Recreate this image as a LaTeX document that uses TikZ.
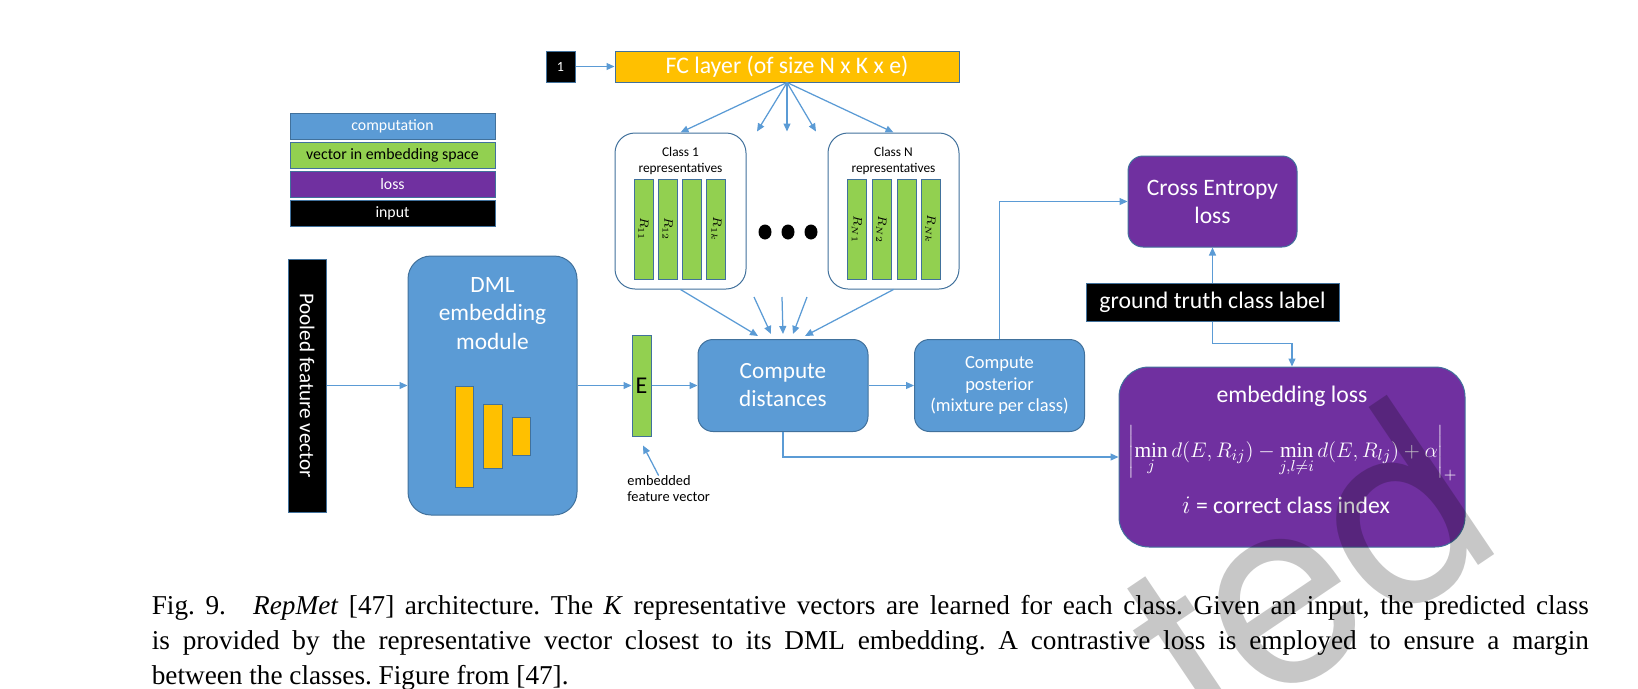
\documentclass[tikz,border=0pt]{standalone}
\usepackage{fontspec}
\setmainfont{Carlito}
\newfontfamily\capfont{Liberation Serif}
\newfontfamily\markfont{TeX Gyre Heros}
\usetikzlibrary{arrows.meta,calc}

\definecolor{compblue}{HTML}{5B9BD5}
\definecolor{vecgreen}{HTML}{92D050}
\definecolor{losspurple}{HTML}{7030A0}
\definecolor{fcorange}{HTML}{FFC000}
\definecolor{edgeblue}{HTML}{41719C}

\newcommand{\fs}[2]{\fontsize{#1}{#2}\selectfont}
\newcommand{\mn}{\mathop{\mbox{\capfont min}}\limits}

\begin{document}
\begin{tikzpicture}[x=0.2mm,y=-0.2mm]
  \tikzstyle{every node}=[inner sep=0pt]
  \tikzstyle{rim}=[draw=edgeblue,line width=0.2mm]
  \tikzstyle{comp}=[rim,fill=compblue,text=white,rounded corners=3mm]
  \tikzstyle{vec}=[rim,fill=vecgreen]
  \tikzstyle{loss}=[rim,fill=losspurple,text=white,rounded corners=3mm]
  \tikzstyle{inbox}=[rim,fill=black,text=white]
  \tikzstyle{fcbox}=[rim,fill=fcorange]
  \tikzstyle{classbox}=[rim,fill=white,rounded corners=4mm,minimum width=26.2mm,minimum height=31.2mm]
  \tikzstyle{keybox}=[rim,minimum width=41mm,minimum height=5.2mm,font=\fs{9}{10}]
  \tikzstyle{link}=[draw=compblue,line width=0.25mm,-{Triangle[length=1.6mm,width=1.4mm]}]
  \useasboundingbox (0,0) rectangle (1638,689);

  \node[keybox,fill=compblue,text=white] (kcomp) at (392.5,126.5) {computation};
  \node[keybox,fill=vecgreen] (kvec) at (392.5,155.5) {vector in embedding space};
  \node[keybox,fill=losspurple,text=white] (kloss) at (392.5,184.5) {loss};
  \node[keybox,fill=black,text=white] (kin) at (392.5,213.5) {input};

  \node[inbox,minimum width=5.8mm,minimum height=6.2mm,font=\fs{8}{9}] (one) at (560.5,66.5) {1};
  \node[fcbox,minimum width=68.8mm,minimum height=6.2mm,text=white,font=\fs{13.5}{15}] (fc) at (787,66.5) {FC layer (of size N x K x e)};

  \node[classbox] (cls1) at (680.5,211) {};
  \node[align=center,font=\fs{7.6}{9.1}] (cls1t) at (680.5,161) {Class 1\\representatives};
  \foreach \x/\lbl [count=\i] in {643.5/R_{11},667.8/R_{12},692.1/,716.4/R_{1k}}
    \node[vec,rotate=-90,minimum width=20mm,minimum height=3.8mm,font=\fs{7.5}{9}] (r1\i) at (\x,229) {$\lbl{}$};
  \node[classbox] (clsN) at (893.5,211) {};
  \node[align=center,font=\fs{7.6}{9.1}] (clsNt) at (893.5,161) {Class N\\representatives};
  \foreach \x/\lbl [count=\i] in {857/R_{N1},881.5/R_{N2},906.5/,930.5/R_{Nk}}
    \node[vec,rotate=-90,minimum width=20mm,minimum height=3.8mm,font=\fs{7.5}{9}] (rN\i) at (\x,229) {$\lbl{}$};
  \foreach \x in {765,788,811}
    \fill (\x,232) ellipse [x radius=1.3mm,y radius=1.5mm];

  \node[inbox,rotate=-90,minimum width=50.6mm,minimum height=7.6mm,font=\fs{12}{14}] (pool) at (307,385.5) {Pooled feature vector};
  \node[comp,rounded corners=4.6mm,minimum width=33.8mm,minimum height=51.8mm] (dml) at (492.5,385.5) {};
  \node[text=white,align=center,font=\fs{13.3}{16.2}] (dmlt) at (492.5,313.5) {DML\\embedding\\module};
  \node[fcbox,minimum width=3.6mm,minimum height=20.2mm] (bar1) at (464,436.5) {};
  \node[fcbox,minimum width=3.8mm,minimum height=12.8mm] (bar2) at (492.5,436) {};
  \node[fcbox,minimum width=3.6mm,minimum height=7.6mm] (bar3) at (521,436) {};

  \node[vec,minimum width=3.8mm,minimum height=20.2mm,font=\fs{13.7}{16}] (emb) at (641.5,385.5) {E};
  \node[anchor=west,align=left,font=\fs{8.2}{9.1}] (embt) at (627,489) {embedded\\feature vector};

  \node[comp,minimum width=34mm,minimum height=18.4mm,align=center,font=\fs{13.2}{15.9}] (dist) at (783,385.5) {Compute\\distances};
  \node[comp,minimum width=34mm,minimum height=18.4mm,align=center,font=\fs{10.5}{12.5}] (post) at (999.5,385.5) {Compute\\posterior\\(mixture per class)};

  \node[loss,minimum width=33.8mm,minimum height=18.2mm,align=center,font=\fs{13.4}{15.9}] (ce) at (1212.5,201.5) {Cross Entropy\\loss};
  \node[inbox,minimum width=50.6mm,minimum height=7.6mm,font=\fs{13.5}{15}] (gt) at (1212.5,302) {ground truth class label};
  \node[loss,rounded corners=6mm,minimum width=69.2mm,minimum height=36mm] (eloss) at (1292,457) {};
  \node[text=white,font=\fs{13.5}{16}] (elt) at (1292,396) {embedding loss};
  \node[text=white,font=\fs{12.2}{15}] (elf) at (1293,453) {$\displaystyle\left|\mn_{j} d\bigl(E,R_{ij}\bigr)-\mn_{j,l\neq i} d\bigl(E,R_{lj}\bigr)+\alpha\right|_{+}$};
  \node[text=white,font=\fs{13.5}{16}] (eli) at (1286,505) {$i$ = correct class index};

  \draw[link] (one) -- (fc);
  \draw[link] (fc.south) -- (cls1.north);
  \draw[link] (fc.south) -- (clsN.north);
  \foreach \e in {-30,0,29}
    \draw[link] (fc.south) -- ($(fc.south)+(\e,49)$);
  \draw[link] (cls1.south) -- ($(dist.north)+(-25,-3)$);
  \draw[link] (clsN.south) -- ($(dist.north)+(22,-3)$);
  \foreach \s/\e in {-29/-12,-1/0,24/10}
    \draw[link] ($(dist.north)+(\s,-42)$) -- ($(dist.north)+(\e,-5)$);
  \draw[link] (pool) -- (dml);
  \draw[link] (dml) -- (emb);
  \draw[link] (emb) -- (dist);
  \draw[link] (dist) -- (post);
  \draw[link] ([xshift=-2mm]embt.north) -- ([xshift=0.3mm,yshift=-1.8mm]emb.south);
  \draw[link] (dist.south) |- (eloss.west);
  \draw[link] (post.north) |- (ce.west);
  \draw[link] (gt) -- (ce);
  \draw[link] (gt.south) -- ++(0,22) -| (eloss.north);

  \node[anchor=north west,text width=287.4mm,align=justify,font=\capfont\fs{15.5}{19.9}\frenchspacing] (cap) at (151.5,595) {Fig.~9.\quad\textit{RepMet} [47] architecture. The \textit{K} representative vectors are learned for each class. Given an input, the predicted class\linebreak is provided by the representative vector closest to its DML embedding. A contrastive loss is employed to ensure a margin\linebreak between the classes. Figure from [47].};

  \begin{scope}
    \clip (0,0) rectangle (1638,689);
    \node[rotate=34,anchor=base east,text=black,opacity=0.22,font=\markfont\fs{150}{150}] (mark) at (1508,545) {ted};
  \end{scope}
\end{tikzpicture}
\end{document}
